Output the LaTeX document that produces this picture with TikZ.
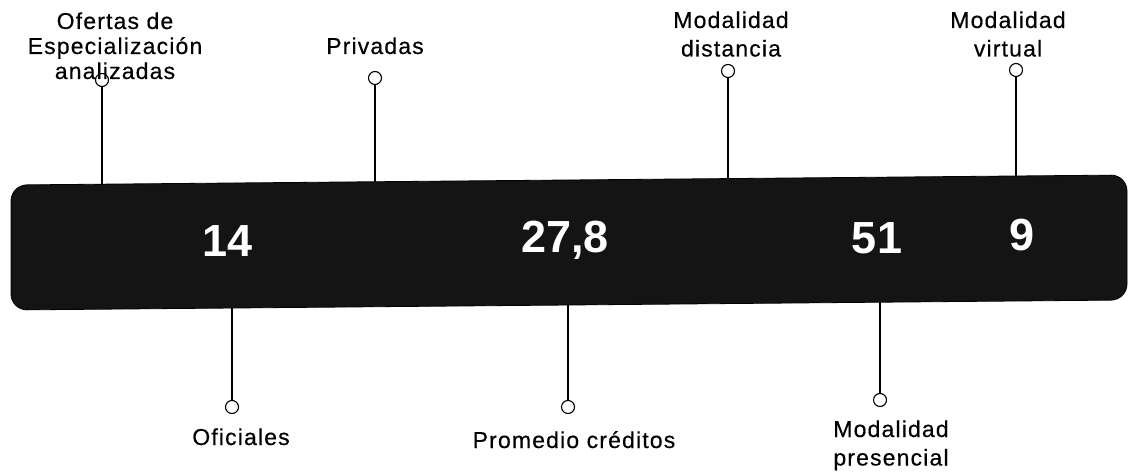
\documentclass[tikz,border=0pt]{standalone}
\usepackage{fontspec}
\setmainfont{Liberation Sans}
\newfontfamily\lblfont{Liberation Sans}[LetterSpace=5,FakeBold=0.4]
\newfontfamily\numfont{Liberation Sans}
\begin{document}
\begin{tikzpicture}[x=1pt,y=-1pt,
  lbl/.style={inner sep=0pt, anchor=base, font=\lblfont\fontsize{23}{25}\selectfont},
  lblm/.style={lbl, font=\lblfont\fontsize{23}{28.5}\selectfont},
  num/.style={inner sep=0pt, text=white, font=\numfont\bfseries\fontsize{45}{45}\selectfont},
  dot/.style={circle, draw=black, line width=1.1pt, fill=white, minimum size=13pt, inner sep=0pt},
  stemtop/.style={line width=2pt},
  stembot/.style={line width=1.4pt},
  barstyle/.style={fill=black!92, draw=black, line width=0.8pt, rounded corners=16pt}]
\useasboundingbox (0,0) rectangle (1131,473);

% bar
\path[barstyle] (11,185) -- (1127,175) -- (1127,300) -- (11,310) -- cycle;

% attachment points on the bar
\coordinate (t1) at (102,184.2);
\coordinate (t2) at (375,181.7);
\coordinate (t3) at (728,178.6);
\coordinate (t4) at (1016,176.0);
\coordinate (b1) at (232,308.0);
\coordinate (b2) at (568,305.0);
\coordinate (b3) at (880,302.2);

% circles
\node[dot] (c1) at (102,80) {};
\node[dot] (c2) at (375,78) {};
\node[dot] (c3) at (728,71) {};
\node[dot] (c4) at (1016,70) {};
\node[dot] (d1) at (232,407) {};
\node[dot] (d2) at (568,407) {};
\node[dot] (d3) at (880,400) {};

% stems
\draw[stemtop] (c1) -- (t1);
\draw[stemtop] (c2) -- (t2);
\draw[stemtop] (c3) -- (t3);
\draw[stemtop] (c4) -- (t4);
\draw[stembot] (d1) -- (b1);
\draw[stembot] (d2) -- (b2);
\draw[stembot] (d3) -- (b3);

% numbers
\node[num] (n1) at (228,241) {14};
\node[num] (n2) at (565,240) {27,8};
\node[num] (n3) at (877,238) {51};
\node[num] (n4) at (1022,235) {9};

% labels
\node[lbl] (l1) at (115,29) {\begin{tabular}[t]{@{}c@{}}Ofertas de\\Especialización\\analizadas\end{tabular}};
\node[lbl] (l2) at (375,54) {Privadas};
\node[lblm] (l3) at (731,28) {\begin{tabular}[t]{@{}c@{}}Modalidad\\distancia\end{tabular}};
\node[lblm] (l4) at (1008,28) {\begin{tabular}[t]{@{}c@{}}Modalidad\\virtual\end{tabular}};
\node[lbl] (l5) at (241,445) {Oficiales};
\node[lbl] (l6) at (574,448) {Promedio créditos};
\node[lblm] (l7) at (891,437) {\begin{tabular}[t]{@{}c@{}}Modalidad\\presencial\end{tabular}};
\end{tikzpicture}
\end{document}
